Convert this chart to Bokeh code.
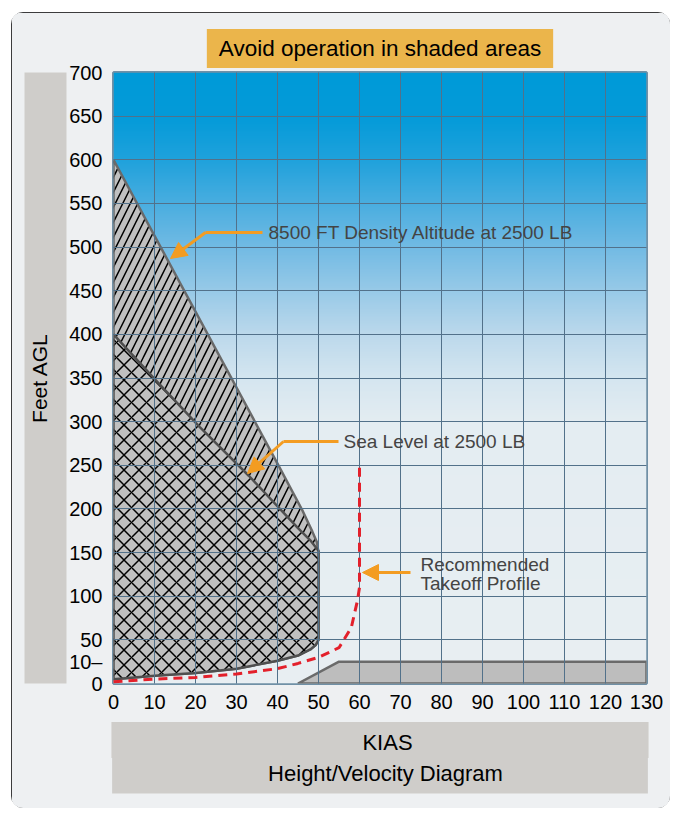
import numpy as np
from bokeh.plotting import figure
from bokeh.models import FixedTicker, Label, Arrow, NormalHead, Range1d, Title, LinearAxis
from bokeh.embed import file_html
from bokeh.resources import INLINE

# axis ticks
kias_ticks = list(range(0, 131, 10))
feet_ticks = list(range(0, 701, 50))
feet_labels = {10: "10\u2013\n "}

# 8500 ft density altitude boundary at 2500 lb
da8500_kias = [0, 40, 46, 48.5, 49.6, 50]
da8500_ft = [600, 252, 199, 174, 162, 150]

# sea level boundary at 2500 lb
sl_kias = [0, 10, 21, 33, 45, 48, 50]
sl_ft = [400, 349, 294, 238, 178, 164, 152]

# lower edge of the low speed avoid region
floor_kias = [0, 10, 20, 30, 40, 45, 48, 49.3, 50]
floor_ft = [5, 9, 12, 17, 26, 32, 39, 44, 50]

# high speed, low height avoid region
low_kias = [45, 55, 130, 130]
low_ft = [0, 25, 25, 0]

# recommended takeoff profile
takeoff_kias = [0, 10, 20, 30, 40, 45, 50, 55, 58, 59.5, 60, 60]
takeoff_ft = [2, 5, 7, 11, 17, 23, 30, 41, 64, 95, 110, 250]

# ---- style ----
ORANGE = "#f39c22"
FONT = "Liberation Sans"
GREY_BOX = "#cfcdca"
grad_ft = [0, 300, 350, 400, 450, 500, 550, 600, 650, 700]
grad_col = ["#e9eff3", "#e4edf2", "#d5e6f0", "#bcd9ec", "#98cae8",
            "#72bbe4", "#4aaee0", "#20a2dc", "#049bd9", "#009ad8"]


def px2x(px):
    # page pixel -> KIAS (frame spans 113..646 px)
    return (px - 113) * 130 / 533


def py2y(py):
    # page pixel -> feet (frame spans 683..72 px)
    return (683 - py) * 700 / 611


def gradient(rows=350):
    hx = [c.lstrip("#") for c in grad_col]
    rgb = np.array([[int(h[i:i + 2], 16) for i in (0, 2, 4)] for h in hx], dtype=float)
    ys = np.linspace(0, 700, rows)
    img = np.zeros((rows, 1), dtype=np.uint32)
    view = img.view(dtype=np.uint8).reshape((rows, 1, 4))
    for k in range(3):
        view[:, 0, k] = np.interp(ys, grad_ft, rgb[:, k]).astype(np.uint8)
    view[:, 0, 3] = 255
    return img


p = figure(width=659, height=796, x_range=Range1d(0, 130), y_range=Range1d(0, 700),
           output_backend="svg", toolbar_location=None,
           min_border_left=102, min_border_right=24, min_border_top=60, min_border_bottom=125)
p.styles = {"margin-left": "11px", "margin-top": "12px", "border-radius": "12px",
            "overflow": "hidden", "outline": "1.5px solid black", "outline-offset": "-1.5px"}
p.border_fill_color = "#eef0f2"
p.outline_line_color = "#7090a6"
p.outline_line_width = 3

p.image_rgba(image=[gradient()], x=0, y=0, dw=130, dh=700)

# axes
p.xaxis.ticker = FixedTicker(ticks=kias_ticks)
p.yaxis.ticker = FixedTicker(ticks=feet_ticks + list(feet_labels))
p.yaxis.major_label_overrides = feet_labels
for ax in (p.xaxis, p.yaxis):
    ax.axis_line_color = None
    ax.major_tick_line_color = None
    ax.minor_tick_line_color = None
    ax.major_label_text_font = FONT
    ax.major_label_text_font_size = "20px"
    ax.major_label_text_color = "black"
    ax.major_label_standoff = 5

# grey box with the vertical axis title
ylab = LinearAxis(ticker=FixedTicker(ticks=[]), axis_label="Feet AGL", axis_line_color=None,
                  major_tick_out=0, major_tick_in=0, minor_tick_out=0, minor_tick_in=0,
                  axis_label_standoff=16, axis_label_text_font=FONT,
                  axis_label_text_font_size="21px", axis_label_text_font_style="normal",
                  axis_label_text_color="black")
if "background_fill_color" in ylab.properties():
    ylab.background_fill_color = GREY_BOX
    ylab.background_fill_alpha = 1
p.add_layout(ylab, "left")

p.xgrid.ticker = FixedTicker(ticks=kias_ticks)
p.ygrid.ticker = FixedTicker(ticks=feet_ticks)
for g in (p.xgrid, p.ygrid):
    g.grid_line_color = "#52718a"
    g.grid_line_width = 1
    g.grid_line_alpha = 1
    g.level = "annotation"

# shaded regions
outer_x = [0] + da8500_kias + floor_kias[::-1]
outer_y = [floor_ft[0]] + da8500_ft + floor_ft[::-1]
p.patch(outer_x, outer_y, fill_color="#c0c0c0", line_color="#6a6a6a", line_width=2.5,
        hatch_pattern="right_diagonal_line", hatch_scale=15, hatch_weight=1.5, hatch_color="black")

cross_x = [0] + sl_kias + floor_kias[::-1]
cross_y = [floor_ft[0]] + sl_ft + floor_ft[::-1]
p.patch(cross_x, cross_y, fill_color="#c0c0c0", line_color="#4f4f4f", line_width=2.5,
        hatch_pattern="diagonal_cross", hatch_scale=15, hatch_weight=1.5, hatch_color="black")

p.patch(low_kias, low_ft, fill_color="#bdbdbd", line_color="#6a6a6a", line_width=2.5)

r = p.line(takeoff_kias, takeoff_ft, line_color="#e3202b", line_width=3, line_dash="9 6")
r.level = "overlay"


def callout(pts, text_lines, tx, ty, dy=0):
    xs = [px2x(a) for a, _ in pts]
    ys = [py2y(b) for _, b in pts]
    if len(pts) > 2:
        ln = p.line(xs[:-1], ys[:-1], line_color=ORANGE, line_width=3)
        ln.level = "overlay"
    p.add_layout(Arrow(end=NormalHead(size=16, fill_color=ORANGE, line_color=ORANGE),
                       x_start=xs[-2], y_start=ys[-2], x_end=xs[-1], y_end=ys[-1],
                       line_color=ORANGE, line_width=3, level="overlay"))
    for i, t in enumerate(text_lines):
        p.add_layout(Label(x=px2x(tx), y=py2y(ty + i * dy), text=t, text_font=FONT,
                           text_font_size="19px", text_baseline="middle", level="overlay"))


callout([(262, 232), (205, 232), (170, 258)], ["8500 FT Density Altitude at 2500 LB"], 268, 232)
callout([(338, 441), (283, 441), (247, 473)], ["Sea Level at 2500 LB"], 343, 441)
callout([(410, 572), (362, 572)], ["Recommended", "Takeoff Profile"], 420, 564, 19)


def boxed_title(text, place, size, fill, pad, standoff, offset=0):
    p.add_layout(Title(text=text, align="center", offset=offset, text_font=FONT,
                       text_font_size=size, text_font_style="normal", text_color="black",
                       background_fill_color=fill, background_fill_alpha=1,
                       padding=dict(zip(("left", "right", "top", "bottom"), pad)),
                       standoff=standoff), place)


boxed_title("Avoid operation in shaded areas", "above", "22.5px", "#ebb54b", (12, 12, 7, 7), 9)
boxed_title("KIAS", "below", "22px", GREY_BOX, (251, 236, 8, 3), 17, offset=8.5)
boxed_title("Height/Velocity Diagram", "below", "22px", GREY_BOX, (156, 145, 4, 8), -24, offset=6.5)

open("out.html", "w").write(file_html(p, INLINE))
